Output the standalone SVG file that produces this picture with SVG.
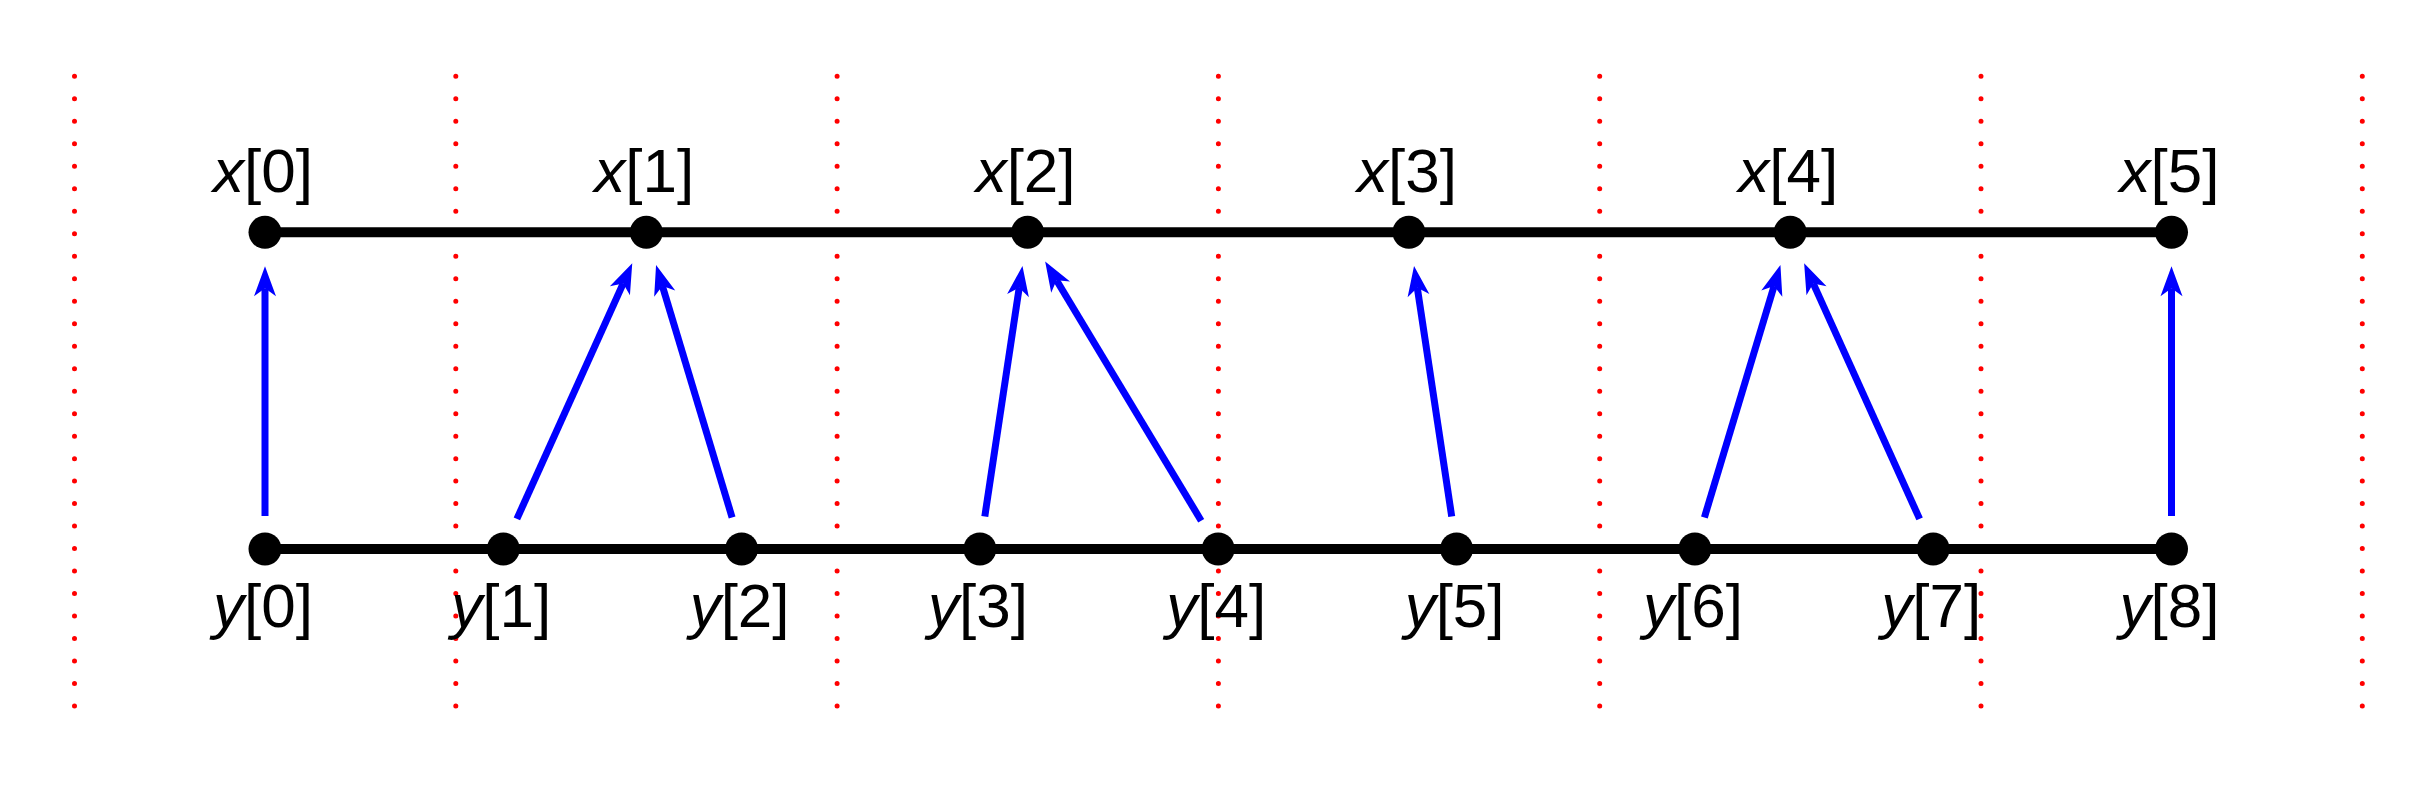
<svg xmlns="http://www.w3.org/2000/svg" width="2428" height="785" viewBox="0 0 2428 785">
<style>
.grid{stroke:#ff0000;stroke-width:5;stroke-linecap:round;stroke-dasharray:0 22.49;fill:none}
.rail{stroke:#000;stroke-width:10;fill:none}
.node{fill:#000}
.lbl{font-family:"Liberation Sans",Arial,sans-serif;font-size:62px;fill:#000;text-anchor:middle}
.it{font-style:italic}
.arr{stroke:#0000ff;stroke-width:7;fill:none;marker-end:url(#head)}
</style>
<defs>
<marker id="head" markerUnits="userSpaceOnUse" markerWidth="31" markerHeight="24" refX="8" refY="12" orient="auto" overflow="visible">
<path d="M0,1 L30,12 L0,23 L8,12 Z" fill="#0000ff"/>
</marker>
</defs>
<rect width="2428" height="785" fill="#fff"/>
<g id="grid">
<line class="grid" x1="74.5" y1="76.3" x2="74.5" y2="708"/>
<line class="grid" x1="455.8" y1="76.3" x2="455.8" y2="708"/>
<line class="grid" x1="837.1" y1="76.3" x2="837.1" y2="708"/>
<line class="grid" x1="1218.4" y1="76.3" x2="1218.4" y2="708"/>
<line class="grid" x1="1599.7" y1="76.3" x2="1599.7" y2="708"/>
<line class="grid" x1="1981" y1="76.3" x2="1981" y2="708"/>
<line class="grid" x1="2362.3" y1="76.3" x2="2362.3" y2="708"/>
</g>
<g id="rails">
<line class="rail" x1="265" y1="232.3" x2="2171.5" y2="232.3"/>
<line class="rail" x1="265" y1="549" x2="2171.5" y2="549"/>
</g>
<g id="connectors">
<line class="arr" x1="265" y1="516" x2="265" y2="288.3"/>
<line class="arr" x1="516.9" y1="518.9" x2="623.2" y2="283.4"/>
<line class="arr" x1="732.1" y1="517.4" x2="662.4" y2="286.0"/>
<line class="arr" x1="984.8" y1="516.4" x2="1019.2" y2="287.7"/>
<line class="arr" x1="1201.2" y1="520.7" x2="1056.5" y2="280.3"/>
<line class="arr" x1="1451.7" y1="516.4" x2="1417.3" y2="287.7"/>
<line class="arr" x1="1704.4" y1="517.4" x2="1774.1" y2="286.0"/>
<line class="arr" x1="1919.6" y1="518.9" x2="1813.2" y2="283.4"/>
<line class="arr" x1="2171.5" y1="516" x2="2171.5" y2="288.3"/>
</g>
<g id="x0"><circle class="node" cx="265" cy="232.3" r="16.5"/><text class="lbl" x="263" y="192"><tspan class="it">x</tspan>[0]</text></g>
<g id="x1"><circle class="node" cx="646.3" cy="232.3" r="16.5"/><text class="lbl" x="644.3" y="192"><tspan class="it">x</tspan>[1]</text></g>
<g id="x2"><circle class="node" cx="1027.6" cy="232.3" r="16.5"/><text class="lbl" x="1025.6" y="192"><tspan class="it">x</tspan>[2]</text></g>
<g id="x3"><circle class="node" cx="1408.9" cy="232.3" r="16.5"/><text class="lbl" x="1406.9" y="192"><tspan class="it">x</tspan>[3]</text></g>
<g id="x4"><circle class="node" cx="1790.2" cy="232.3" r="16.5"/><text class="lbl" x="1788.2" y="192"><tspan class="it">x</tspan>[4]</text></g>
<g id="x5"><circle class="node" cx="2171.5" cy="232.3" r="16.5"/><text class="lbl" x="2169.5" y="192"><tspan class="it">x</tspan>[5]</text></g>
<g id="y0"><circle class="node" cx="265" cy="549" r="16.5"/><text class="lbl" x="263" y="627"><tspan class="it">y</tspan>[0]</text></g>
<g id="y1"><circle class="node" cx="503.3" cy="549" r="16.5"/><text class="lbl" x="501.3" y="627"><tspan class="it">y</tspan>[1]</text></g>
<g id="y2"><circle class="node" cx="741.6" cy="549" r="16.5"/><text class="lbl" x="739.6" y="627"><tspan class="it">y</tspan>[2]</text></g>
<g id="y3"><circle class="node" cx="979.9" cy="549" r="16.5"/><text class="lbl" x="977.9" y="627"><tspan class="it">y</tspan>[3]</text></g>
<g id="y4"><circle class="node" cx="1218.2" cy="549" r="16.5"/><text class="lbl" x="1216.2" y="627"><tspan class="it">y</tspan>[4]</text></g>
<g id="y5"><circle class="node" cx="1456.6" cy="549" r="16.5"/><text class="lbl" x="1454.6" y="627"><tspan class="it">y</tspan>[5]</text></g>
<g id="y6"><circle class="node" cx="1694.9" cy="549" r="16.5"/><text class="lbl" x="1692.9" y="627"><tspan class="it">y</tspan>[6]</text></g>
<g id="y7"><circle class="node" cx="1933.2" cy="549" r="16.5"/><text class="lbl" x="1931.2" y="627"><tspan class="it">y</tspan>[7]</text></g>
<g id="y8"><circle class="node" cx="2171.5" cy="549" r="16.5"/><text class="lbl" x="2169.5" y="627"><tspan class="it">y</tspan>[8]</text></g>
</svg>
